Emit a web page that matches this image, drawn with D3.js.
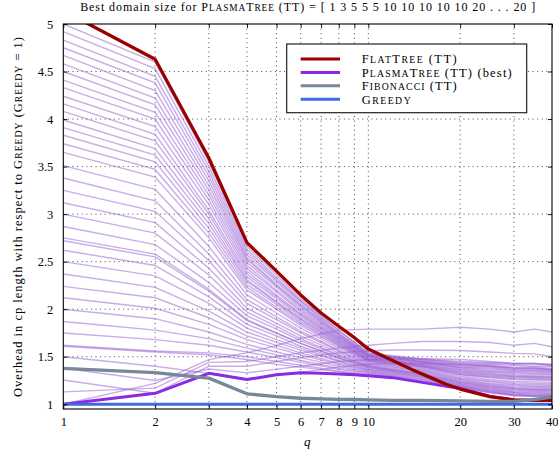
<!DOCTYPE html>
<html>
<head>
<meta charset="utf-8">
<script src="https://cdn.jsdelivr.net/npm/d3@7"></script>
<style>
  body { margin: 0; background: #fff; }
  svg { display: block; }
  svg text { fill: #000; white-space: pre; }
</style>
</head>
<body>
<svg id="chart" width="558" height="456"></svg>
<script>
// q values at which every PlasmaTree domain-size run was measured
const qValues = [1, 2, 3, 4, 5, 6, 8, 10, 12, 15, 20, 25, 30, 35, 40];

// PlasmaTree (TT), one row per domain size (overhead w.r.t. Greedy)
const domainSeries = [
  [5.00, 4.60, 3.55, 2.66, 2.36, 2.11, 1.78, 1.54, 1.51, 1.48, 1.45, 1.44, 1.43, 1.43, 1.42],
  [4.92, 4.53, 3.50, 2.63, 2.33, 2.09, 1.77, 1.54, 1.50, 1.47, 1.44, 1.43, 1.42, 1.42, 1.41],
  [4.83, 4.45, 3.45, 2.60, 2.31, 2.08, 1.75, 1.53, 1.50, 1.47, 1.43, 1.42, 1.41, 1.40, 1.40],
  [4.75, 4.38, 3.40, 2.57, 2.29, 2.06, 1.74, 1.52, 1.49, 1.46, 1.42, 1.41, 1.39, 1.39, 1.38],
  [4.67, 4.30, 3.35, 2.54, 2.26, 2.04, 1.73, 1.52, 1.49, 1.45, 1.41, 1.40, 1.38, 1.38, 1.37],
  [4.58, 4.22, 3.30, 2.52, 2.25, 2.03, 1.72, 1.51, 1.48, 1.45, 1.40, 1.39, 1.37, 1.37, 1.36],
  [4.50, 4.15, 3.25, 2.49, 2.23, 2.01, 1.71, 1.51, 1.48, 1.44, 1.39, 1.38, 1.36, 1.36, 1.35],
  [4.41, 4.07, 3.20, 2.46, 2.20, 1.99, 1.70, 1.50, 1.47, 1.44, 1.385, 1.37, 1.35, 1.35, 1.34],
  [4.33, 4.00, 3.15, 2.43, 2.18, 1.97, 1.69, 1.50, 1.46, 1.43, 1.38, 1.355, 1.34, 1.34, 1.33],
  [4.24, 3.92, 3.10, 2.40, 2.15, 1.95, 1.68, 1.49, 1.46, 1.42, 1.37, 1.345, 1.33, 1.325, 1.32],
  [4.16, 3.84, 3.04, 2.37, 2.13, 1.94, 1.67, 1.48, 1.45, 1.42, 1.36, 1.335, 1.32, 1.315, 1.31],
  [4.08, 3.77, 3.00, 2.34, 2.11, 1.92, 1.66, 1.48, 1.45, 1.41, 1.35, 1.325, 1.305, 1.30, 1.295],
  [3.99, 3.69, 2.95, 2.31, 2.08, 1.90, 1.65, 1.47, 1.44, 1.405, 1.34, 1.315, 1.295, 1.29, 1.285],
  [3.91, 3.62, 2.90, 2.29, 2.07, 1.89, 1.64, 1.47, 1.44, 1.40, 1.335, 1.305, 1.29, 1.285, 1.28],
  [3.83, 3.55, 2.85, 2.26, 2.05, 1.87, 1.63, 1.46, 1.43, 1.395, 1.325, 1.295, 1.28, 1.275, 1.27],
  [3.74, 3.47, 2.80, 2.23, 2.02, 1.85, 1.62, 1.46, 1.425, 1.39, 1.315, 1.285, 1.27, 1.265, 1.26],
  [3.65, 3.39, 2.75, 2.20, 2.00, 1.83, 1.61, 1.45, 1.42, 1.38, 1.31, 1.28, 1.26, 1.255, 1.25],
  [3.51, 3.26, 2.66, 2.15, 1.96, 1.80, 1.59, 1.44, 1.41, 1.37, 1.295, 1.26, 1.24, 1.235, 1.23],
  [3.38, 3.14, 2.58, 2.10, 1.92, 1.77, 1.57, 1.43, 1.40, 1.36, 1.28, 1.245, 1.225, 1.22, 1.215],
  [3.25, 3.03, 2.51, 2.06, 1.89, 1.75, 1.56, 1.42, 1.39, 1.35, 1.27, 1.235, 1.21, 1.205, 1.20],
  [3.12, 2.91, 2.43, 2.01, 1.85, 1.72, 1.54, 1.41, 1.38, 1.34, 1.26, 1.22, 1.20, 1.19, 1.19],
  [3.00, 2.80, 2.36, 1.97, 1.82, 1.69, 1.52, 1.40, 1.37, 1.33, 1.25, 1.21, 1.185, 1.18, 1.175],
  [2.87, 2.68, 2.28, 1.93, 1.79, 1.67, 1.51, 1.40, 1.365, 1.32, 1.24, 1.20, 1.175, 1.17, 1.165],
  [2.75, 2.58, 2.21, 1.89, 1.75, 1.64, 1.49, 1.39, 1.355, 1.315, 1.23, 1.19, 1.165, 1.155, 1.155],
  [2.72, 2.55, 2.19, 1.88, 1.745, 1.64, 1.49, 1.385, 1.355, 1.31, 1.23, 1.185, 1.16, 1.155, 1.15],
  [2.62, 2.46, 2.13, 1.84, 1.72, 1.61, 1.48, 1.38, 1.345, 1.30, 1.22, 1.175, 1.15, 1.145, 1.14],
  [2.50, 2.35, 2.06, 1.80, 1.68, 1.59, 1.46, 1.37, 1.34, 1.295, 1.21, 1.17, 1.14, 1.135, 1.13],
  [2.37, 2.23, 1.98, 1.76, 1.65, 1.57, 1.45, 1.36, 1.33, 1.285, 1.205, 1.16, 1.13, 1.125, 1.12],
  [2.24, 2.12, 1.91, 1.72, 1.62, 1.54, 1.43, 1.355, 1.325, 1.28, 1.195, 1.15, 1.125, 1.115, 1.11],
  [2.12, 2.01, 1.84, 1.68, 1.59, 1.52, 1.42, 1.345, 1.315, 1.27, 1.19, 1.145, 1.115, 1.105, 1.105],
  [2.00, 1.90, 1.76, 1.63, 1.55, 1.49, 1.40, 1.335, 1.305, 1.26, 1.185, 1.135, 1.105, 1.095, 1.095],
  [1.87, 1.78, 1.69, 1.59, 1.52, 1.46, 1.38, 1.33, 1.30, 1.25, 1.18, 1.13, 1.10, 1.09, 1.09],
  [1.75, 1.68, 1.62, 1.55, 1.49, 1.44, 1.37, 1.32, 1.29, 1.24, 1.175, 1.125, 1.095, 1.085, 1.085],
  [1.62, 1.56, 1.54, 1.50, 1.45, 1.41, 1.35, 1.31, 1.28, 1.23, 1.17, 1.12, 1.09, 1.08, 1.08],
  [1.61, 1.55, 1.52, 1.47, 1.42, 1.39, 1.34, 1.30, 1.28, 1.23, 1.165, 1.09, 1.05, 1.045, 1.045],
  [1.00, 1.22, 1.47, 1.54, 1.62, 1.69, 1.78, 1.79, 1.79, 1.79, 1.81, 1.79, 1.76, 1.79, 1.76],
  [1.13, 1.17, 1.44, 1.45, 1.50, 1.54, 1.59, 1.62, 1.64, 1.66, 1.66, 1.65, 1.62, 1.64, 1.605],
  [1.255, 1.115, 1.40, 1.40, 1.45, 1.49, 1.54, 1.56, 1.57, 1.57, 1.565, 1.55, 1.535, 1.53, 1.50],
  [1.378, 1.25, 1.37, 1.33, 1.37, 1.40, 1.45, 1.47, 1.48, 1.48, 1.47, 1.45, 1.43, 1.43, 1.41],
  [1.50, 1.40, 1.325, 1.26, 1.31, 1.335, 1.39, 1.42, 1.43, 1.43, 1.42, 1.40, 1.38, 1.38, 1.36]
];

// FlatTree (TT)
const flatTreeQ = [1, 2, 3, 4, 5, 6, 7, 8, 9, 10, 12, 14, 16, 18, 20, 25, 30, 35, 40];
const flatTree  = [5.14, 4.63, 3.59, 2.70, 2.40, 2.15, 1.96, 1.82, 1.70, 1.58, 1.46, 1.36, 1.28, 1.21, 1.16, 1.08, 1.045, 1.04, 1.04];

// PlasmaTree (TT) with the best domain size for each q
const bestQ      = [1, 2, 3, 4, 5, 6, 7, 8, 9, 10, 12, 15, 20, 25, 30, 35, 40];
const plasmaBest = [1.0, 1.115, 1.325, 1.26, 1.31, 1.332, 1.325, 1.318, 1.31, 1.30, 1.28, 1.23, 1.165, 1.085, 1.045, 1.04, 1.04];

// Fibonacci (TT)
const fibQ      = [1, 2, 3, 4, 5, 6, 7, 8, 9, 10, 12, 15, 20, 25, 30, 35, 40];
const fibonacci = [1.378, 1.332, 1.275, 1.11, 1.08, 1.063, 1.056, 1.052, 1.05, 1.045, 1.04, 1.04, 1.035, 1.03, 1.03, 1.05, 1.075];

// Greedy is the reference
const greedyQ = [1, 40];
const greedy  = [1, 1];

const xTicks = [1, 2, 3, 4, 5, 6, 7, 8, 9, 10, 20, 30, 40];
const yTicks = [1, 1.5, 2, 2.5, 3, 3.5, 4, 4.5, 5];

const SERIF = '"Liberation Serif", "DejaVu Serif", serif';

const svg = d3.select("#chart");
const L = 63.3, R = 552, T = 24, B = 409;

const x = d3.scaleLog().domain([1, 40]).range([L, R]);
const y = d3.scaleLinear().domain([0.95, 5]).range([B, T]);

svg.append("defs").append("clipPath").attr("id", "plotClip")
  .append("rect").attr("x", L).attr("y", T).attr("width", R - L).attr("height", B - T);

// dotted grid
const grid = svg.append("g").attr("stroke", "#333").attr("stroke-width", 0.9)
  .attr("stroke-dasharray", "1,3.6");
grid.selectAll("line.vx").data(xTicks.slice(1, -1)).enter().append("line")
  .attr("x1", d => x(d)).attr("x2", d => x(d)).attr("y1", T).attr("y2", B);
grid.selectAll("line.hy").data(yTicks.slice(0, -1)).enter().append("line")
  .attr("y1", d => y(d)).attr("y2", d => y(d)).attr("x1", L).attr("x2", R);

const plot = svg.append("g").attr("clip-path", "url(#plotClip)");
const line = (qs) => d3.line().x((d, i) => x(qs[i])).y(d => y(d));

// one thin line per domain size
plot.append("g").selectAll("path").data(domainSeries).enter().append("path")
  .attr("d", d => line(qValues)(d))
  .attr("fill", "none").attr("stroke", "rgb(150,90,210)")
  .attr("stroke-opacity", 0.5).attr("stroke-width", 1.4);

const main = [
  { q: bestQ, v: plasmaBest, color: "#8a2be2", w: 3.0 },
  { q: flatTreeQ, v: flatTree, color: "#990000", w: 3.3 },
  { q: fibQ, v: fibonacci, color: "#778899", w: 3.3 },
  { q: greedyQ, v: greedy, color: "#4169e1", w: 2.8 }
];
main.forEach(s => {
  plot.append("path").attr("d", line(s.q)(s.v))
    .attr("fill", "none").attr("stroke", s.color).attr("stroke-width", s.w)
    .attr("stroke-linejoin", "round");
});

// axes with inward ticks on all four sides
const fmtY = d => (Number.isInteger(d) ? d3.format("d")(d) : d3.format(".1f")(d));
const axB = svg.append("g").attr("transform", `translate(0,${B})`)
  .call(d3.axisBottom(x).tickValues(xTicks).tickFormat(d3.format("d"))
    .tickSizeInner(-4).tickSizeOuter(0).tickPadding(8));
const axL = svg.append("g").attr("transform", `translate(${L},0)`)
  .call(d3.axisLeft(y).tickValues(yTicks).tickFormat(fmtY)
    .tickSizeInner(-4).tickSizeOuter(0).tickPadding(10));
const axT = svg.append("g").attr("transform", `translate(0,${T})`)
  .call(d3.axisTop(x).tickValues(xTicks).tickFormat("").tickSizeInner(-4).tickSizeOuter(0));
const axR = svg.append("g").attr("transform", `translate(${R},0)`)
  .call(d3.axisRight(y).tickValues(yTicks).tickFormat("").tickSizeInner(-4).tickSizeOuter(0));
[axB, axL, axT, axR].forEach(a => {
  a.attr("font-family", SERIF);
  a.select(".domain").remove();
  a.selectAll("line").attr("stroke", "#000").attr("stroke-width", 0.9);
  a.selectAll("text").attr("font-family", SERIF).attr("font-size", 12.5).attr("fill", "#000");
});
// keep the last x label inside the page edge
axB.selectAll(".tick text").filter(d => d === 40).attr("text-anchor", "end").attr("dx", 6);

svg.append("rect").attr("x", L).attr("y", T).attr("width", R - L).attr("height", B - T)
  .attr("fill", "none").attr("stroke", "#000").attr("stroke-width", 1.1);

// text with small capitals: [string, isSmall]
function richText(sel, parts, size, ratio) {
  sel.attr("font-family", SERIF);
  parts.forEach(([s, small]) => {
    sel.append("tspan").attr("font-size", small ? size * ratio : size).text(s);
  });
  return sel;
}

// title
richText(svg.append("text").attr("x", (L + R) / 2).attr("y", 11).attr("text-anchor", "middle"),
  [["Best domain size for ", 0], ["P", 0], ["LASMA", 1], ["T", 0], ["REE", 1],
   [" (TT) = [ 1 3 5 5 5 10 10 10 10 10 20 . . . 20 ]", 0]], 12, 0.78)
  .attr("textLength", 455).attr("lengthAdjust", "spacing");

// axis titles
svg.append("text").attr("x", (L + R) / 2 - 0.5).attr("y", 446).attr("text-anchor", "middle")
  .attr("font-family", SERIF).attr("font-size", 13).attr("font-style", "italic").text("q");

richText(svg.append("text").attr("transform", "translate(22,217) rotate(-90)").attr("text-anchor", "middle"),
  [["Overhead in cp length with respect to ", 0], ["G", 0], ["REEDY", 1], [" (", 0], ["G", 0], ["REEDY", 1], [" = 1)", 0]],
  12.5, 0.78)
  .attr("textLength", 360).attr("lengthAdjust", "spacing");

// legend
const legendItems = [
  { color: "#990000", parts: [["F", 0], ["LAT", 1], ["T", 0], ["REE", 1], [" (TT)", 0]], len: 95 },
  { color: "#8a2be2", parts: [["P", 0], ["LASMA", 1], ["T", 0], ["REE", 1], [" (TT) (best)", 0]], len: 150 },
  { color: "#778899", parts: [["F", 0], ["IBONACCI", 1], [" (TT)", 0]], len: 95 },
  { color: "#4169e1", parts: [["G", 0], ["REEDY", 1]], len: 49 }
];
const lg = svg.append("g");
lg.append("rect").attr("x", 286.7).attr("y", 44).attr("width", 240).attr("height", 68.7)
  .attr("fill", "#fff").attr("stroke", "#222").attr("stroke-width", 1.2);
legendItems.forEach((it, i) => {
  const yy = 59 + i * 13.4;
  lg.append("line").attr("x1", 300.7).attr("x2", 340).attr("y1", yy).attr("y2", yy)
    .attr("stroke", it.color).attr("stroke-width", 3);
  richText(lg.append("text").attr("x", 361.7).attr("y", yy + 4.3), it.parts, 12.5, 0.78)
    .attr("textLength", it.len).attr("lengthAdjust", "spacing");
});
</script>
</body>
</html>
